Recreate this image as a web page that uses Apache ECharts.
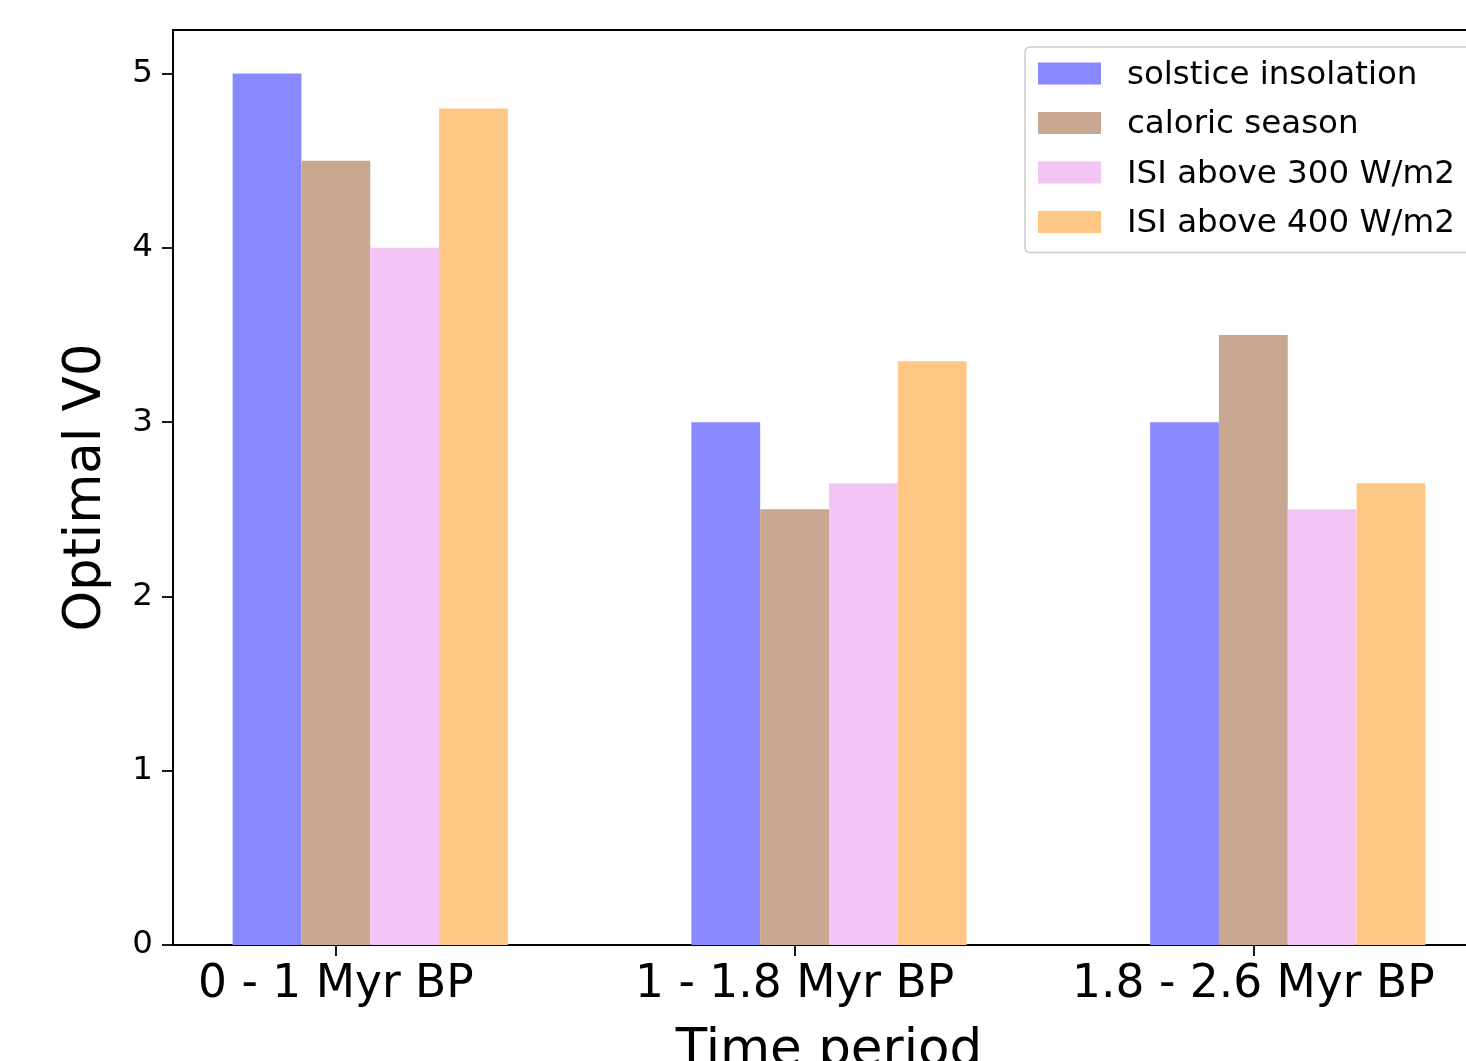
<!DOCTYPE html>
<html>
<head>
<meta charset="utf-8">
<script src="https://cdn.jsdelivr.net/npm/echarts@6/dist/echarts.min.js"></script>
<style>
html,body{margin:0;padding:0;background:#fff;}
#chart{width:1466px;height:1061px;}
</style>
</head>
<body>
<div id="chart"></div>
<script>
// ---- data ----
const categories = ['0 - 1 Myr BP', '1 - 1.8 Myr BP', '1.8 - 2.6 Myr BP'];
const seriesNames = ['solstice insolation', 'caloric season', 'ISI above 300 W/m2', 'ISI above 400 W/m2'];
const solstice = [5.0, 3.0, 3.0];
const caloric = [4.5, 2.5, 3.5];
const isi300 = [4.0, 2.65, 2.5];
const isi400 = [4.8, 3.35, 2.65];
const yTicks = [0, 1, 2, 3, 4, 5];

// ---- layout / style ----
const colors = ['#8888ff', '#c9a891', '#f4c5f4', '#ffc786'];
const barW = 0.15;             // bar width in x-axis units
const tickOffset = 1.5 * barW; // category tick placed at second bar centre
const allValues = [solstice, caloric, isi300, isi400];
const FONT = 'DejaVu Sans';

const series = allValues.map((vals, j) => ({
  name: seriesNames[j],
  type: 'custom',
  itemStyle: { color: colors[j] },
  encode: { x: 0, y: 1 },
  data: vals.map((v, i) => [i + (j + 0.5) * barW, v]),
  renderItem: function (params, api) {
    const x = api.value(0), y = api.value(1);
    const p1 = api.coord([x - barW / 2, y]);
    const p2 = api.coord([x + barW / 2, 0]);
    return {
      type: 'rect',
      shape: { x: p1[0], y: p1[1], width: p2[0] - p1[0], height: p2[1] - p1[1] },
      style: { fill: colors[j] }
    };
  }
}));

const tickVals = categories.map((c, i) => i + tickOffset);

const chart = echarts.init(document.getElementById('chart'));
chart.setOption({
  animation: false,
  backgroundColor: '#fff',
  grid: {
    left: 173, top: 30, width: 1312, bottom: 116,
    outerBoundsMode: 'none', containLabel: false,
    show: true, borderColor: '#000', borderWidth: 1.8, backgroundColor: 'transparent'
  },
  legend: {
    orient: 'vertical',
    left: 1025, top: 47,
    data: seriesNames.map(n => ({ name: n, icon: 'rect' })),
    formatter: name => '{a|' + name + '}',
    itemWidth: 63, itemHeight: 22, itemGap: 12.5,
    backgroundColor: 'rgba(255,255,255,0.9)',
    borderColor: '#cccccc', borderWidth: 1.5, borderRadius: 5,
    padding: [8, 30, 12, 13],
    textStyle: {
      fontFamily: FONT, fontSize: 32.5, color: '#000',
      rich: { a: { fontFamily: FONT, fontSize: 32.5, color: '#000', lineHeight: 32, padding: [4, 0, 0, 21] } }
    }
  },
  xAxis: {
    type: 'value',
    min: -0.13, max: 2.73,
    splitLine: { show: false },
    axisLine: { show: true, onZero: false, lineStyle: { color: '#000', width: 1.8 } },
    axisTick: { show: true, customValues: tickVals, length: 11, lineStyle: { color: '#000', width: 1.8 } },
    axisLabel: {
      customValues: tickVals,
      formatter: v => categories[Math.round(v - tickOffset)],
      fontFamily: FONT, fontSize: 45.5, color: '#000', margin: 17
    },
    name: 'Time period',
    nameLocation: 'middle',
    nameGap: 81,
    nameTextStyle: { fontFamily: FONT, fontSize: 51.5, color: '#000' }
  },
  yAxis: {
    type: 'value',
    min: 0, max: 5.25,
    splitLine: { show: false },
    axisLine: { show: true, onZero: false, lineStyle: { color: '#000', width: 1.8 } },
    axisTick: { show: true, customValues: yTicks, length: 11, lineStyle: { color: '#000', width: 1.8 } },
    axisLabel: { customValues: yTicks, fontFamily: FONT, fontSize: 32.5, color: '#000', margin: 20 },
    name: 'Optimal V0',
    nameLocation: 'middle',
    nameGap: 60,
    nameTextStyle: { fontFamily: FONT, fontSize: 51.5, color: '#000' }
  },
  series: series
});
</script>
</body>
</html>
